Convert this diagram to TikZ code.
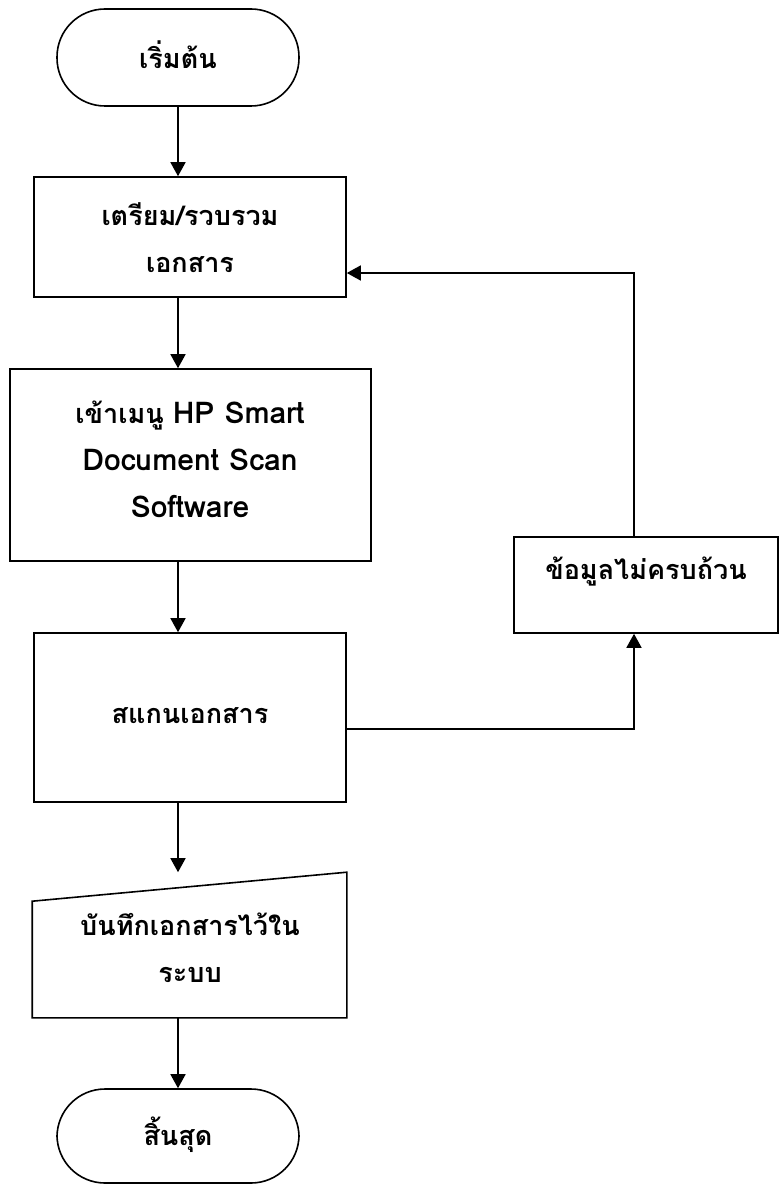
\documentclass[tikz,border=0pt]{standalone}
\usepackage{fontspec}
\setmainfont[Script=Thai]{Loma}
\usetikzlibrary{arrows.meta,calc}
\newcommand{\latbig}[1]{{\fontsize{30}{47}\selectfont #1}}
\begin{document}
\begin{tikzpicture}[x=1pt,y=-1pt,
  line width=1.6pt,
  arr/.style={-{Triangle[length=14pt,width=15pt]}},
  box/.style={draw,inner sep=0pt},
  term/.style={draw,inner sep=0pt,rounded corners=48pt},
  txt/.style={align=center,font=\fontsize{27}{47}\selectfont\bfseries,inner sep=0pt}]
\useasboundingbox (0,0) rectangle (779,1185);
\coordinate (colx) at (178,0);
\coordinate (colb) at (634,0);
\coordinate (j1) at (0,729);
\coordinate (j2) at (0,273);

\node[term,minimum width=242pt,minimum height=97pt] (start) at (178,57.5) {};
\node[txt] at (178,55) {เริ่มต้น};

\node[box,minimum width=312pt,minimum height=120pt] (b1) at (190,237) {};
\node[txt] at (190,238) {เตรียม/รวบรวม\\เอกสาร};

\node[box,minimum width=361pt,minimum height=192pt] (b2) at (190.5,465) {};
\node[txt] at (190,459) {เข้าเมนู \latbig{HP Smart}\\\latbig{Document Scan}\\\latbig{Software}};

\node[box,minimum width=312pt,minimum height=169pt] (b3) at (190,717.5) {};
\node[txt] at (190,716) {สแกนเอกสาร};

\node[inner sep=0pt,minimum width=313pt,minimum height=144pt] (save) at (189.5,945) {};
\draw (save.south west) -- (save.south east) -- (save.north east) -- ($(save.north west)+(0,29)$) -- cycle;
\node[txt] at (190,948) {บันทึกเอกสารไว้ใน\\ระบบ};

\node[term,minimum width=242pt,minimum height=94pt] (stop) at (178,1136) {};
\node[txt] at (178,1135) {สิ้นสุด};

\node[box,minimum width=264pt,minimum height=96pt] (b4) at (646,585) {};
\node[txt] at (646,572) {ข้อมูลไม่ครบถ้วน};

\draw[arr] (start.south -| colx) -- (b1.north -| colx);
\draw[arr] (b1.south -| colx) -- (b2.north -| colx);
\draw[arr] (b2.south -| colx) -- (b3.north -| colx);
\draw[arr] (b3.south -| colx) -- (save.north -| colx);
\draw[arr] (save.south -| colx) -- (stop.north -| colx);
\draw[arr] (b3.east |- j1) -| (b4.south -| colb);
\draw[arr] (b4.north -| colb) |- (b1.east |- j2);
\end{tikzpicture}
\end{document}
